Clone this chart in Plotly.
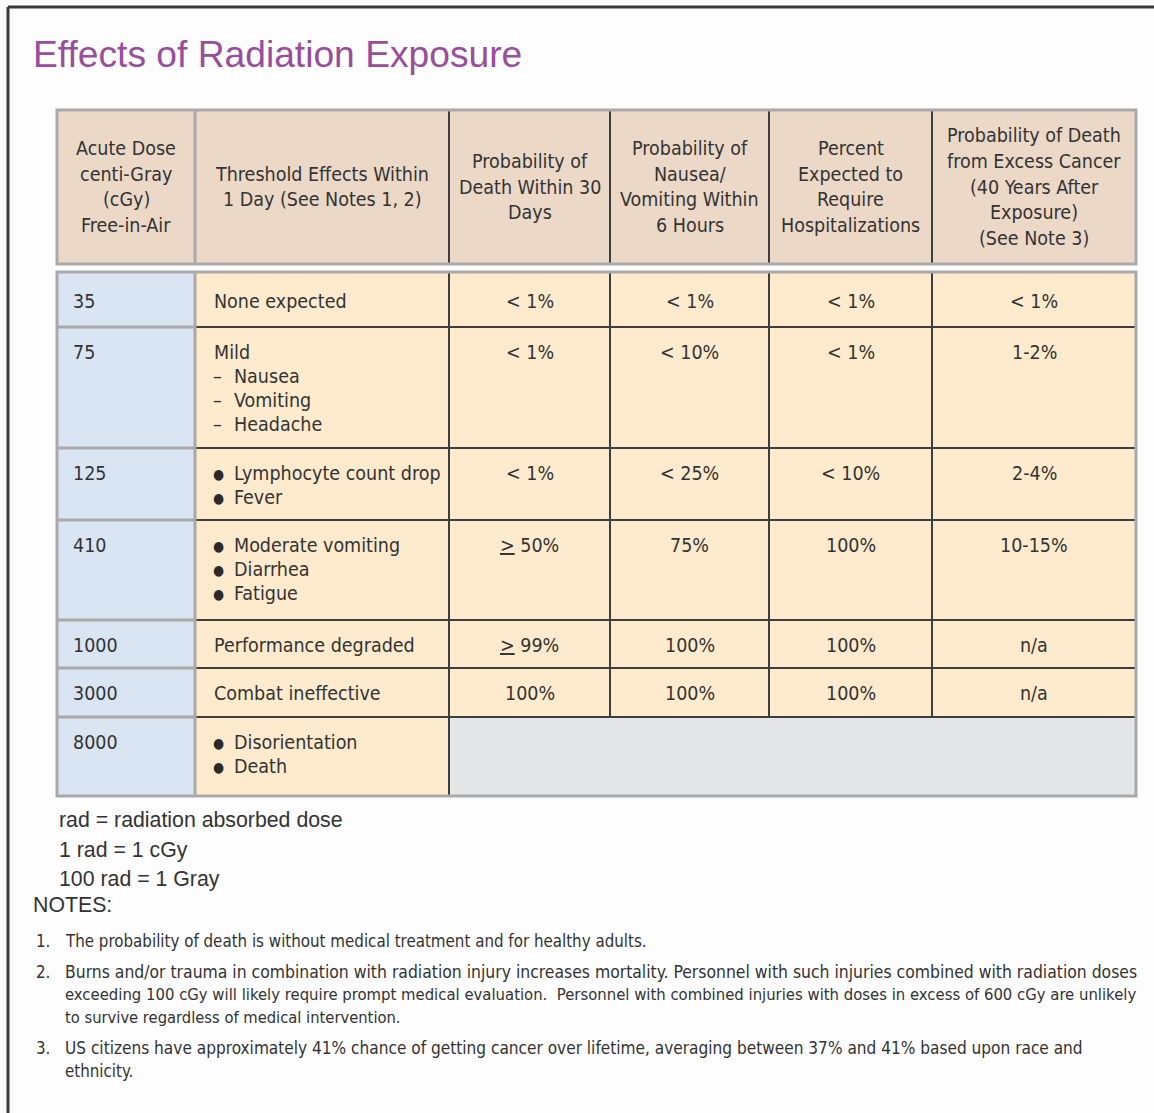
import plotly.graph_objects as go

# ---------------- data ----------------
title = "Effects of Radiation Exposure"
headers = [
    ["Acute Dose", "centi-Gray", "(cGy)", "Free-in-Air"],
    ["Threshold Effects Within", "1 Day (See Notes 1, 2)"],
    ["Probability of", "Death Within 30", "Days"],
    ["Probability of", "Nausea/", "Vomiting Within", "6 Hours"],
    ["Percent", "Expected to", "Require", "Hospitalizations"],
    ["Probability of Death", "from Excess Cancer", "(40 Years After", "Exposure)", "(See Note 3)"],
]
doses = ["35", "75", "125", "410", "1000", "3000", "8000"]
effects = [
    [("", "None expected")],
    [("", "Mild"), ("–", "Nausea"), ("–", "Vomiting"), ("–", "Headache")],
    [("•", "Lymphocyte count drop"), ("•", "Fever")],
    [("•", "Moderate vomiting"), ("•", "Diarrhea"), ("•", "Fatigue")],
    [("", "Performance degraded")],
    [("", "Combat ineffective")],
    [("•", "Disorientation"), ("•", "Death")],
]
death_30d = ["< 1%", "< 1%", "< 1%", "≥ 50%", "≥ 99%", "100%", None]
nausea_6h = ["< 1%", "< 10%", "< 25%", "75%", "100%", "100%", None]
hospitalized = ["< 1%", "< 1%", "< 10%", "100%", "100%", "100%", None]
cancer_death = ["< 1%", "1-2%", "2-4%", "10-15%", "n/a", "n/a", None]

unit_lines = ["rad = radiation absorbed dose", "1 rad = 1 cGy", "100 rad = 1 Gray"]
notes_label = "NOTES:"
notes = [
    ["The probability of death is without medical treatment and for healthy adults."],
    ["Burns and/or trauma in combination with radiation injury increases mortality. Personnel with such injuries combined with radiation doses",
     "exceeding 100 cGy will likely require prompt medical evaluation.  Personnel with combined injuries with doses in excess of 600 cGy are unlikely",
     "to survive regardless of medical intervention."],
    ["US citizens have approximately 41% chance of getting cancer over lifetime, averaging between 37% and 41% based upon race and",
     "ethnicity."],
]

# ---------------- layout constants ----------------
W, H = 1154, 1113
COND = "DejaVu Sans Condensed, Liberation Sans Narrow, Arial Narrow, sans-serif"
SANS = "Liberation Sans, Arial, Helvetica, sans-serif"
TXT = "#333333"
HDR_FILL = "#ecd8c7"
BODY_FILL = "#feeacc"
BLUE_FILL = "#dae5f3"
EMPTY_FILL = "#e5e6e8"
GRAY_LINE = "#a9a9a9"
DARK_LINE = "#3e3e3e"

col_edges = [57, 195, 449, 610, 769, 932, 1136]
hdr_top, hdr_bot = 110, 264
row_edges = [272, 327, 448, 520, 620, 668, 717, 796]
hdr_center = 187
hdr_lh = 25.7
body_lh = 24.3
body_pad = 25
fs_cell = 19.5

shapes = []
ann = []


def rect(x0, y0, x1, y1, fill):
    shapes.append(dict(type="rect", xref="x", yref="y", x0=x0, x1=x1, y0=y0, y1=y1,
                       fillcolor=fill, line=dict(width=0), layer="below"))


def line(x0, y0, x1, y1, color, width):
    shapes.append(dict(type="line", xref="x", yref="y", x0=x0, x1=x1, y0=y0, y1=y1,
                       line=dict(color=color, width=width)))


def text(x, y, s, size, family=COND, anchor="left", color=TXT):
    ann.append(dict(x=x, y=y, xref="x", yref="y", text=s, showarrow=False,
                    xanchor=anchor, yanchor="middle", borderpad=0,
                    font=dict(size=size, family=family, color=color)))


def fmt(v):
    return v.replace("<", "&lt;").replace("≥", "<u>&gt;</u>")


# frame
line(8, H, 8, 7, "#3a3a3a", 3)
line(8, 7, W, 7, "#3a3a3a", 3)

# title
text(32, 54, title, 37.2, SANS, color="#994d9d")

# header block
rect(col_edges[0], hdr_top, col_edges[-1], hdr_bot, HDR_FILL)
for i in range(1, len(col_edges) - 1):
    line(col_edges[i], hdr_top, col_edges[i], hdr_bot, GRAY_LINE if i == 1 else DARK_LINE, 3 if i == 1 else 2)
shapes.append(dict(type="rect", xref="x", yref="y", x0=col_edges[0], x1=col_edges[-1],
                   y0=hdr_top, y1=hdr_bot, line=dict(color=GRAY_LINE, width=3)))
for c, lines_ in enumerate(headers):
    cx = (col_edges[c] + col_edges[c + 1]) / 2
    n = len(lines_)
    for k, s in enumerate(lines_):
        text(cx, hdr_center + (k - (n - 1) / 2) * hdr_lh, s, fs_cell, anchor="center")

# body fills
body_top, body_bot = row_edges[0], row_edges[-1]
rect(col_edges[0], body_top, col_edges[1], body_bot, BLUE_FILL)
rect(col_edges[1], body_top, col_edges[-1], body_bot, BODY_FILL)
value_cols = [death_30d, nausea_6h, hospitalized, cancer_death]
for r in range(len(doses)):
    if all(col[r] is None for col in value_cols):
        rect(col_edges[2], row_edges[r], col_edges[-1], row_edges[r + 1], EMPTY_FILL)

# body row lines
for r in range(1, len(row_edges) - 1):
    y = row_edges[r]
    line(col_edges[0], y, col_edges[1], y, GRAY_LINE, 3)
    line(col_edges[1], y, col_edges[-1], y, DARK_LINE, 2)
# body column lines
line(col_edges[1], body_top, col_edges[1], body_bot, GRAY_LINE, 3)
line(col_edges[2], body_top, col_edges[2], body_bot, DARK_LINE, 2)
last_full = max(r for r in range(len(doses)) if death_30d[r] is not None) + 1
for i in range(3, len(col_edges) - 1):
    line(col_edges[i], body_top, col_edges[i], row_edges[last_full], DARK_LINE, 2)
shapes.append(dict(type="rect", xref="x", yref="y", x0=col_edges[0], x1=col_edges[-1],
                   y0=body_top, y1=body_bot, line=dict(color=GRAY_LINE, width=3)))

# body text
for r in range(len(doses)):
    top = row_edges[r] + (4 if r == 0 else 0)
    y0 = top + body_pad
    text(col_edges[0] + 15, y0, doses[r], fs_cell)
    for k, (mark, s) in enumerate(effects[r]):
        yy = y0 + k * body_lh
        if mark == "•":
            text(col_edges[1] + 23, yy + 0.5, "●", 14, anchor="center", color="#2a2a2a")
            text(col_edges[1] + 38, yy, s, fs_cell)
        elif mark:
            text(col_edges[1] + 22, yy, mark, fs_cell, anchor="center")
            text(col_edges[1] + 38, yy, s, fs_cell)
        else:
            text(col_edges[1] + 18, yy, s, fs_cell)
    for c, col in enumerate(value_cols):
        if col[r] is not None:
            cx = (col_edges[c + 2] + col_edges[c + 3]) / 2
            text(cx, y0, fmt(col[r]), fs_cell, anchor="center")

# units / notes
for k, s in enumerate(unit_lines):
    text(58, 820 + k * 29.5, s, 21.3, SANS)
text(32, 905, notes_label, 21.3, SANS)

note_tops = [941, 972, 1048]
note_lh = 22.8
note_sizes = [[16.8], [17.4, 16.55, 16.4], [17.1, 16.8]]
for n, lines_ in enumerate(notes):
    text(35, note_tops[n], f"{n + 1}.", 16.8)
    for k, s in enumerate(lines_):
        text(64, note_tops[n] + k * note_lh, s, note_sizes[n][k])

fig = go.Figure()
fig.update_layout(
    width=W, height=H,
    margin=dict(l=0, r=0, t=0, b=0),
    paper_bgcolor="#fdfdfd", plot_bgcolor="#fdfdfd",
    xaxis=dict(range=[0, W], visible=False, fixedrange=True),
    yaxis=dict(range=[H, 0], visible=False, fixedrange=True),
    shapes=shapes, annotations=ann, showlegend=False,
)
fig.write_html("out.html", config={"displayModeBar": False},
               post_script="document.body.style.margin='0px';document.body.style.padding='0px';")
